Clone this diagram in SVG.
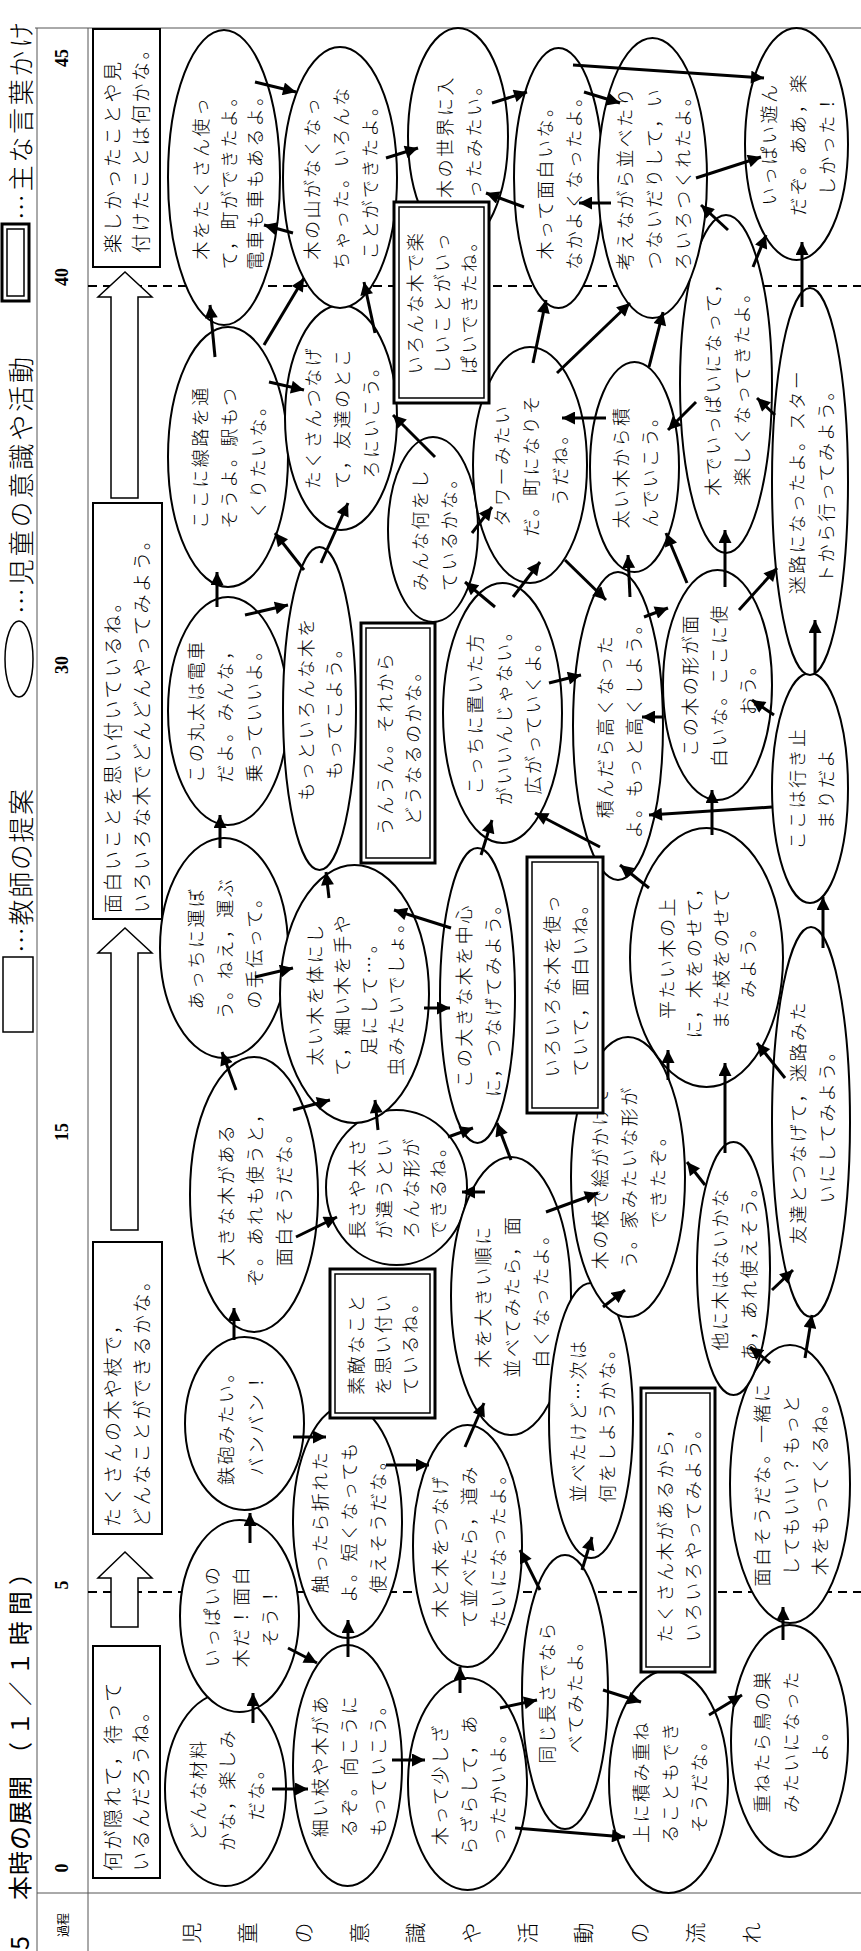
<svg xmlns="http://www.w3.org/2000/svg" width="861" height="1951" viewBox="0 0 861 1951">
<defs>
<marker id="ah" viewBox="0 0 10 10" refX="10" refY="5" markerWidth="14" markerHeight="13" markerUnits="userSpaceOnUse" orient="auto"><path d="M0,0 L10,5 L0,10 z" fill="#000"/></marker>
<style>
.f{stroke:#555;stroke-width:1;fill:none}
.d{stroke:#000;stroke-width:2;stroke-dasharray:9 6;fill:none}
.e{fill:#fff;stroke:#000;stroke-width:2}
.r{fill:#fff;stroke:#000;stroke-width:2}
.o{fill:#fff;stroke:#000;stroke-width:3}
.i{fill:none;stroke:#000;stroke-width:1.5}
.ba{fill:#fff;stroke:#000;stroke-width:1.5}
text{font-family:"Noto Sans CJK JP","Noto Sans",sans-serif;fill:#000}
.t{font-size:18px;font-weight:300;letter-spacing:2.5px;text-anchor:middle;dominant-baseline:central}
.bt{font-size:19px;font-weight:300;letter-spacing:2.5px;dominant-baseline:central}
.lg{font-size:26px;font-weight:300;dominant-baseline:central}
.tm{font-family:"Liberation Serif",serif;font-weight:bold;font-size:18px;text-anchor:middle;dominant-baseline:central}
.c line{stroke:#000;stroke-width:3;marker-end:url(#ah)}
</style>
</defs>
<rect x="0" y="0" width="861" height="1951" fill="#fff"/>
<g transform="translate(0,1951) rotate(-90)">
<g id="frame">
<line class="f" x1="0" y1="37" x2="1923" y2="37"/>
<line class="f" x1="0" y1="88" x2="1923" y2="88"/>
<line class="f" x1="1923" y1="35" x2="1923" y2="861"/>
<line class="f" x1="58" y1="37" x2="58" y2="861"/>
<line class="d" x1="359" y1="88" x2="359" y2="861"/>
<line class="d" x1="1665" y1="88" x2="1665" y2="861"/>
<text class="tm" x="83" y="62">0</text>
<text class="tm" x="366" y="62">5</text>
<text class="tm" x="819" y="62">15</text>
<text class="tm" x="1286" y="62">30</text>
<text class="tm" x="1674" y="62">40</text>
<text class="tm" x="1893" y="62">45</text>
<text x="26" y="62" style="font-size:12px;text-anchor:middle;dominant-baseline:central">過程</text>
<text x="18 18 18 18 18 18 18 18 18 18 18" y="190 246 302 358 414 470 526 582 638 694 750" style="font-size:21px;font-weight:300;text-anchor:middle;dominant-baseline:central">児童の意識や活動の流れ</text>
</g>
<g id="title">
<text x="1" y="18" style="font-size:25px;dominant-baseline:central">5</text>
<text x="51" y="18" style="font-size:24px;letter-spacing:1px;dominant-baseline:central">本時の展開</text>
<text x="185" y="18" textLength="205" lengthAdjust="spacing" style="font-size:24px;dominant-baseline:central">（１／１時間）</text>
<rect x="919" y="3" width="75" height="30" fill="#fff" stroke="#000" stroke-width="1.5"/>
<text class="lg" x="998" y="19" textLength="164" lengthAdjust="spacing">…教師の提案</text>
<ellipse cx="1292" cy="19" rx="38" ry="14" fill="#fff" stroke="#000" stroke-width="1.5"/>
<text class="lg" x="1337" y="19" textLength="257" lengthAdjust="spacing">…児童の意識や活動</text>
<rect class="o" x="1650" y="2" width="77" height="27"/>
<rect class="i" x="1655" y="7" width="67" height="17"/>
<text class="lg" x="1731" y="19" textLength="198" lengthAdjust="spacing">…主な言葉かけ</text>
</g>
<g id="teacher">
<g id="R1"><rect class="r" x="73" y="93" width="232" height="67"/><text class="bt" x="80" y="111">何が隠れて，待って</text><text class="bt" x="80" y="139">いるんだろうね。</text></g>
<g id="BA1"><polygon class="ba" points="324,111 373,111 373,98 399,125 373,152 373,138 324,138"/></g>
<g id="R3"><rect class="r" x="417" y="93" width="292" height="69"/><text class="bt" x="424" y="111">たくさんの木や枝で，</text><text class="bt" x="424" y="140">どんなことができるかな。</text></g>
<g id="BA2"><polygon class="ba" points="721,111 998,111 998,98 1023,125 998,152 998,138 721,138"/></g>
<g id="R5"><rect class="r" x="1032" y="93" width="416" height="69"/><text class="bt" x="1038" y="111">面白いことを思い付いているね。</text><text class="bt" x="1038" y="140">いろいろな木でどんどんやってみよう。</text></g>
<g id="BA3"><polygon class="ba" points="1453,111 1654,111 1654,98 1679,125 1654,152 1654,138 1453,138"/></g>
<g id="R7"><rect class="r" x="1684" y="93" width="238" height="67"/><text class="bt" x="1698" y="111">楽しかったことや見</text><text class="bt" x="1698" y="139">付けたことは何かな。</text></g>
</g>
<g id="nodes">
<g id="E1"><ellipse class="e" cx="161.5" cy="225.5" rx="96.5" ry="60.5"/><text class="t" x="161.5" y="196.5">どんな材料</text><text class="t" x="161.5" y="225.5">かな，楽しみ</text><text class="t" x="161.5" y="254.5">だな。</text></g>
<g id="E2"><ellipse class="e" cx="335" cy="239.5" rx="96" ry="59.5"/><text class="t" x="335" y="210.5">いっぱいの</text><text class="t" x="335" y="239.5">木だ！面白</text><text class="t" x="335" y="268.5">そう！</text></g>
<g id="E3"><ellipse class="e" cx="527.5" cy="244.5" rx="86.5" ry="59.5"/><text class="t" x="527.5" y="225">鉄砲みたい。</text><text class="t" x="527.5" y="255">バンバン！</text></g>
<g id="E4"><ellipse class="e" cx="756.5" cy="254" rx="137.5" ry="64"/><text class="t" x="756.5" y="225">大きな木がある</text><text class="t" x="756.5" y="254">ぞ。あれも使うと，</text><text class="t" x="756.5" y="283">面白そうだな。</text></g>
<g id="E5"><ellipse class="e" cx="1003" cy="224" rx="110" ry="64"/><text class="t" x="1003" y="195">あっちに運ぼ</text><text class="t" x="1003" y="224">う。ねえ，運ぶ</text><text class="t" x="1003" y="253">の手伝って。</text></g>
<g id="E6"><ellipse class="e" cx="1240" cy="228" rx="114" ry="60"/><text class="t" x="1240" y="195">この丸太は電車</text><text class="t" x="1240" y="224">だよ。みんな，</text><text class="t" x="1240" y="253">乗っていいよ。</text></g>
<g id="E7"><ellipse class="e" cx="1494" cy="228" rx="130" ry="60"/><text class="t" x="1494" y="199">ここに線路を通</text><text class="t" x="1494" y="228">そうよ。駅もつ</text><text class="t" x="1494" y="257">くりたいな。</text></g>
<g id="E8"><ellipse class="e" cx="1773.5" cy="224" rx="147.5" ry="56"/><text class="t" x="1773.5" y="200">木をたくさん使っ</text><text class="t" x="1773.5" y="228">て，町ができたよ。</text><text class="t" x="1773.5" y="254">電車も車もあるよ。</text></g>
<g id="E9"><ellipse class="e" cx="185.5" cy="347.5" rx="120.5" ry="54.5"/><text class="t" x="185.5" y="318.5">細い枝や木があ</text><text class="t" x="185.5" y="347.5">るぞ。向こうに</text><text class="t" x="185.5" y="376.5">もっていこう。</text></g>
<g id="E10"><ellipse class="e" cx="429.5" cy="347.5" rx="116.5" ry="54.5"/><text class="t" x="429.5" y="318.5">触ったら折れた</text><text class="t" x="429.5" y="347.5">よ。短くなっても</text><text class="t" x="429.5" y="376.5">使えそうだな。</text></g>
<g id="E12"><ellipse class="e" cx="763.5" cy="396.5" rx="77.5" ry="70.5"/><text class="t" x="763.5" y="356">長さや太さ</text><text class="t" x="763.5" y="383">が違うとい</text><text class="t" x="763.5" y="410">ろんな形が</text><text class="t" x="763.5" y="437">できるね。</text></g>
<g id="E13"><ellipse class="e" cx="957" cy="354.5" rx="129" ry="74.5"/><text class="t" x="957" y="314">太い木を体にし</text><text class="t" x="957" y="341">て，細い木を手や</text><text class="t" x="957" y="368">足にして…。</text><text class="t" x="957" y="395">虫みたいでしょ。</text></g>
<g id="E14"><ellipse class="e" cx="1242.5" cy="319.5" rx="161.5" ry="36.5"/><text class="t" x="1242.5" y="305">もっといろんな木を</text><text class="t" x="1242.5" y="333">もってこよう。</text></g>
<g id="E15"><ellipse class="e" cx="1533.5" cy="341" rx="112.5" ry="56"/><text class="t" x="1533.5" y="312">たくさんつなげ</text><text class="t" x="1533.5" y="341">て，友達のとこ</text><text class="t" x="1533.5" y="370">ろにいこう。</text></g>
<g id="E16"><ellipse class="e" cx="1773.5" cy="340" rx="130.5" ry="57"/><text class="t" x="1773.5" y="311">木の山がなくなっ</text><text class="t" x="1773.5" y="340">ちゃった。いろんな</text><text class="t" x="1773.5" y="369">ことができたよ。</text></g>
<g id="E17"><ellipse class="e" cx="167" cy="467.5" rx="106" ry="59.5"/><text class="t" x="167" y="438.5">木って少しざ</text><text class="t" x="167" y="467.5">らざらして，あ</text><text class="t" x="167" y="496.5">ったかいよ。</text></g>
<g id="E18"><ellipse class="e" cx="405" cy="467.5" rx="121" ry="54.5"/><text class="t" x="405" y="438.5">木と木をつなげ</text><text class="t" x="405" y="467.5">て並べたら，道み</text><text class="t" x="405" y="496.5">たいになったよ。</text></g>
<g id="E19"><ellipse class="e" cx="655" cy="511" rx="139" ry="60"/><text class="t" x="655" y="482">木を大きい順に</text><text class="t" x="655" y="511">並べてみたら，面</text><text class="t" x="655" y="540">白くなったよ。</text></g>
<g id="E20"><ellipse class="e" cx="955.5" cy="477.5" rx="147.5" ry="37.5"/><text class="t" x="955.5" y="463">この大きな木を中心</text><text class="t" x="955.5" y="492">に，つなげてみよう。</text></g>
<g id="E22"><ellipse class="e" cx="1421.5" cy="433" rx="92.5" ry="45"/><text class="t" x="1421.5" y="418.5">みんな何をし</text><text class="t" x="1421.5" y="447.5">ているかな。</text></g>
<g id="E24"><ellipse class="e" cx="1814.5" cy="458" rx="108.5" ry="50"/><text class="t" x="1814.5" y="443.5">木の世界に入</text><text class="t" x="1814.5" y="472.5">ったみたい。</text></g>
<g id="E25"><ellipse class="e" cx="259" cy="565" rx="137" ry="43"/><text class="t" x="259" y="546">同じ長さでなら</text><text class="t" x="259" y="574">べてみたよ。</text></g>
<g id="E26"><ellipse class="e" cx="530.5" cy="591" rx="137.5" ry="42"/><text class="t" x="530.5" y="576.5">並べたけど…次は</text><text class="t" x="530.5" y="605.5">何をしようかな。</text></g>
<g id="E28"><ellipse class="e" cx="169.5" cy="668.5" rx="111.5" ry="59.5"/><text class="t" x="169.5" y="639.5">上に積み重ね</text><text class="t" x="169.5" y="668.5">ることもでき</text><text class="t" x="169.5" y="697.5">そうだな。</text></g>
<g id="E29"><ellipse class="e" cx="210" cy="789.5" rx="116" ry="58.5"/><text class="t" x="210" y="760.5">重ねたら鳥の巣</text><text class="t" x="210" y="789.5">みたいになった</text><text class="t" x="210" y="818.5">よ。</text></g>
<g id="E30"><ellipse class="e" cx="467" cy="790" rx="139" ry="60"/><text class="t" x="467" y="761">面白そうだな。一緒に</text><text class="t" x="467" y="790">してもいい？もっと</text><text class="t" x="467" y="819">木をもってくるね。</text></g>
<g id="E31"><ellipse class="e" cx="774" cy="628" rx="140" ry="57"/><text class="t" x="774" y="599">木の枝で絵がかけそ</text><text class="t" x="774" y="628">う。家みたいな形が</text><text class="t" x="774" y="657">できたぞ。</text></g>
<g id="E32"><ellipse class="e" cx="682.5" cy="733.5" rx="126.5" ry="36.5"/><text class="t" x="682.5" y="719">他に木はないかな</text><text class="t" x="682.5" y="748">あ，あれ使えそう。</text></g>
<g id="E33"><ellipse class="e" cx="829" cy="811" rx="195" ry="39"/><text class="t" x="829" y="796.5">友達とつなげて，迷路みた</text><text class="t" x="829" y="825.5">いにしてみよう。</text></g>
<g id="E34"><ellipse class="e" cx="993.5" cy="706.5" rx="129.5" ry="76.5"/><text class="t" x="993.5" y="666">平たい木の上</text><text class="t" x="993.5" y="693">に，木をのせて，</text><text class="t" x="993.5" y="720">また枝をのせて</text><text class="t" x="993.5" y="747">みよう。</text></g>
<g id="E36"><ellipse class="e" cx="1238" cy="502.5" rx="130" ry="59.5"/><text class="t" x="1238" y="473.5">こっちに置いた方</text><text class="t" x="1238" y="502.5">がいいんじゃない。</text><text class="t" x="1238" y="531.5">広がっていくよ。</text></g>
<g id="E37"><ellipse class="e" cx="1225" cy="618" rx="154" ry="45"/><text class="t" x="1225" y="603.5">積んだら高くなった</text><text class="t" x="1225" y="632.5">よ。もっと高くしよう。</text></g>
<g id="E38"><ellipse class="e" cx="1266" cy="717.5" rx="115" ry="54.5"/><text class="t" x="1266" y="688.5">この木の形が面</text><text class="t" x="1266" y="717.5">白いな。ここに使</text><text class="t" x="1266" y="746.5">おう。</text></g>
<g id="E39"><ellipse class="e" cx="1163" cy="810" rx="115" ry="38"/><text class="t" x="1163" y="795.5">ここは行き止</text><text class="t" x="1163" y="824.5">まりだよ</text></g>
<g id="E40"><ellipse class="e" cx="1469.5" cy="810" rx="193.5" ry="38"/><text class="t" x="1469.5" y="795.5">迷路になったよ。スター</text><text class="t" x="1469.5" y="824.5">トから行ってみよう。</text></g>
<g id="E41"><ellipse class="e" cx="1486" cy="530" rx="118" ry="57"/><text class="t" x="1486" y="501">タワーみたい</text><text class="t" x="1486" y="530">だ。町になりそ</text><text class="t" x="1486" y="559">うだね。</text></g>
<g id="E42"><ellipse class="e" cx="1484" cy="634.5" rx="105" ry="44.5"/><text class="t" x="1484" y="620">太い木から積</text><text class="t" x="1484" y="649">んでいこう。</text></g>
<g id="E43"><ellipse class="e" cx="1567" cy="726" rx="169" ry="46"/><text class="t" x="1567" y="711.5">木でいっぱいになって，</text><text class="t" x="1567" y="740.5">楽しくなってきたよ。</text></g>
<g id="E44"><ellipse class="e" cx="1773" cy="558.5" rx="130" ry="44.5"/><text class="t" x="1773" y="544">木って面白いな。</text><text class="t" x="1773" y="573">なかよくなったよ。</text></g>
<g id="E45"><ellipse class="e" cx="1773" cy="652.5" rx="140" ry="54.5"/><text class="t" x="1773" y="623.5">考えながら並べたり</text><text class="t" x="1773" y="652.5">つないだりして，い</text><text class="t" x="1773" y="681.5">ろいろつくれたよ。</text></g>
<g id="E46"><ellipse class="e" cx="1807" cy="796.5" rx="116" ry="51.5"/><text class="t" x="1807" y="767.5">いっぱい遊ん</text><text class="t" x="1807" y="796.5">だぞ。ああ，楽</text><text class="t" x="1807" y="825.5">しかった！</text></g>
<g id="DR11"><rect class="o" x="533" y="330" width="149" height="105"/><rect class="i" x="538" y="335" width="139" height="95"/><text class="t" x="607.5" y="355">素敵なこと</text><text class="t" x="607.5" y="382">を思い付い</text><text class="t" x="607.5" y="409">ているね。</text></g>
<g id="DR21"><rect class="o" x="1088" y="361" width="240" height="74"/><rect class="i" x="1093" y="366" width="230" height="64"/><text class="t" x="1208" y="384">うんうん。それから</text><text class="t" x="1208" y="412">どうなるのかな。</text></g>
<g id="DR23"><rect class="o" x="1548" y="394" width="201" height="95"/><rect class="i" x="1553" y="399" width="191" height="85"/><text class="t" x="1648.5" y="414">いろんな木で楽</text><text class="t" x="1648.5" y="441">しいことがいっ</text><text class="t" x="1648.5" y="468">ぱいできたね。</text></g>
<g id="DR27"><rect class="o" x="279" y="641" width="284" height="74"/><rect class="i" x="284" y="646" width="274" height="64"/><text class="t" x="421" y="664">たくさん木があるから，</text><text class="t" x="421" y="692">いろいろやってみよう。</text></g>
<g id="DR35"><rect class="o" x="838" y="527" width="256" height="76"/><rect class="i" x="843" y="532" width="246" height="66"/><text class="t" x="966" y="551">いろいろな木を使っ</text><text class="t" x="966" y="579">ていて，面白いね。</text></g>
</g>
<g id="connectors" class="c">
<line x1="162" y1="272" x2="162" y2="308"/>
<line x1="191" y1="392" x2="191" y2="425"/>
<line x1="123" y1="515" x2="114" y2="625"/>
<line x1="228" y1="253" x2="258" y2="253"/>
<line x1="303" y1="288" x2="288" y2="317"/>
<line x1="294" y1="348" x2="331" y2="348"/>
<line x1="258" y1="460" x2="284" y2="460"/>
<line x1="243" y1="500" x2="251" y2="537"/>
<line x1="261" y1="603" x2="249" y2="641"/>
<line x1="236" y1="709" x2="256" y2="742"/>
<line x1="311" y1="783" x2="344" y2="783"/>
<line x1="361" y1="540" x2="401" y2="520"/>
<line x1="381" y1="582" x2="414" y2="592"/>
<line x1="408" y1="250" x2="438" y2="250"/>
<line x1="514" y1="293" x2="514" y2="326"/>
<line x1="486" y1="386" x2="486" y2="429"/>
<line x1="504" y1="465" x2="548" y2="484"/>
<line x1="611" y1="234" x2="643" y2="234"/>
<line x1="714" y1="296" x2="734" y2="337"/>
<line x1="759" y1="485" x2="759" y2="462"/>
<line x1="739" y1="546" x2="758" y2="598"/>
<line x1="644" y1="603" x2="661" y2="625"/>
<line x1="661" y1="772" x2="681" y2="793"/>
<line x1="588" y1="770" x2="604" y2="750"/>
<line x1="593" y1="805" x2="636" y2="812"/>
<line x1="861" y1="236" x2="899" y2="222"/>
<line x1="841" y1="293" x2="851" y2="330"/>
<line x1="821" y1="378" x2="851" y2="375"/>
<line x1="814" y1="448" x2="823" y2="473"/>
<line x1="791" y1="511" x2="828" y2="497"/>
<line x1="943" y1="424" x2="943" y2="450"/>
<line x1="871" y1="668" x2="901" y2="668"/>
<line x1="798" y1="725" x2="888" y2="725"/>
<line x1="873" y1="785" x2="908" y2="757"/>
<line x1="766" y1="705" x2="789" y2="687"/>
<line x1="1103" y1="220" x2="1136" y2="220"/>
<line x1="974" y1="255" x2="983" y2="293"/>
<line x1="1053" y1="329" x2="1079" y2="326"/>
<line x1="1023" y1="451" x2="1041" y2="394"/>
<line x1="1096" y1="481" x2="1131" y2="492"/>
<line x1="1104" y1="600" x2="1138" y2="535"/>
<line x1="1063" y1="649" x2="1086" y2="620"/>
<line x1="1144" y1="772" x2="1136" y2="649"/>
<line x1="1003" y1="823" x2="1054" y2="823"/>
<line x1="1116" y1="712" x2="1161" y2="712"/>
<line x1="1268" y1="549" x2="1276" y2="581"/>
<line x1="1234" y1="663" x2="1234" y2="642"/>
<line x1="1236" y1="774" x2="1251" y2="752"/>
<line x1="1278" y1="815" x2="1331" y2="815"/>
<line x1="1336" y1="245" x2="1346" y2="288"/>
<line x1="1344" y1="217" x2="1379" y2="217"/>
<line x1="1381" y1="304" x2="1418" y2="275"/>
<line x1="1388" y1="321" x2="1448" y2="348"/>
<line x1="1494" y1="435" x2="1536" y2="393"/>
<line x1="1344" y1="495" x2="1369" y2="465"/>
<line x1="1354" y1="513" x2="1389" y2="540"/>
<line x1="1418" y1="472" x2="1444" y2="492"/>
<line x1="1391" y1="565" x2="1351" y2="606"/>
<line x1="1354" y1="630" x2="1396" y2="628"/>
<line x1="1368" y1="687" x2="1418" y2="666"/>
<line x1="1334" y1="644" x2="1343" y2="668"/>
<line x1="1364" y1="725" x2="1421" y2="725"/>
<line x1="1341" y1="739" x2="1383" y2="777"/>
<line x1="1594" y1="215" x2="1646" y2="210"/>
<line x1="1606" y1="264" x2="1673" y2="304"/>
<line x1="1569" y1="269" x2="1561" y2="304"/>
<line x1="1618" y1="375" x2="1669" y2="364"/>
<line x1="1588" y1="533" x2="1651" y2="546"/>
<line x1="1578" y1="557" x2="1648" y2="630"/>
<line x1="1584" y1="649" x2="1639" y2="663"/>
<line x1="1533" y1="606" x2="1533" y2="562"/>
<line x1="1549" y1="696" x2="1521" y2="668"/>
<line x1="1536" y1="775" x2="1553" y2="757"/>
<line x1="1644" y1="802" x2="1709" y2="802"/>
<line x1="1684" y1="753" x2="1716" y2="766"/>
<line x1="1869" y1="255" x2="1859" y2="296"/>
<line x1="1793" y1="386" x2="1803" y2="418"/>
<line x1="1848" y1="492" x2="1859" y2="527"/>
<line x1="1886" y1="573" x2="1873" y2="764"/>
<line x1="1859" y1="584" x2="1848" y2="620"/>
<line x1="1773" y1="696" x2="1794" y2="761"/>
<line x1="1748" y1="611" x2="1748" y2="579"/>
<line x1="1744" y1="524" x2="1758" y2="486"/>
<line x1="1718" y1="293" x2="1726" y2="264"/>
<line x1="1721" y1="728" x2="1746" y2="701"/>
</g>
</g>
</svg>
